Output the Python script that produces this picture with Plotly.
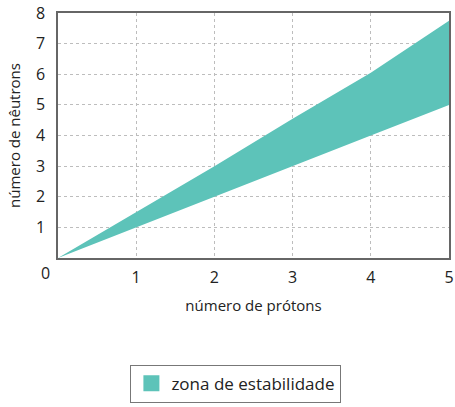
import plotly.graph_objects as go

protons = [0, 1, 2, 3, 4, 5]
neutrons_upper = [0, 1.5, 3.0, 4.55, 6.05, 7.75]
neutrons_lower = [0, 1.0, 2.0, 3.0, 4.0, 5.0]
x_ticks = [1, 2, 3, 4, 5]
y_ticks = [1, 2, 3, 4, 5, 6, 7, 8]
series_name = "zona de estabilidade"

teal = "#5DC3B9"
font = "'Open Sans', Lato, sans-serif"

fig = go.Figure()
fig.add_trace(go.Scatter(
    x=protons + protons[::-1],
    y=neutrons_upper + neutrons_lower[::-1],
    fill="toself", fillcolor=teal, mode="lines",
    line=dict(width=0, color=teal), name=series_name, showlegend=False,
    hoverinfo="skip",
))
fig.add_trace(go.Scatter(
    x=[None], y=[None], mode="markers", name=series_name,
    marker=dict(symbol="square", size=20, color=teal), showlegend=True,
))

fig.update_layout(
    width=455, height=407,
    margin=dict(l=58, r=6, t=13, b=148),
    paper_bgcolor="white", plot_bgcolor="white",
    font=dict(family=font, color="#222", size=16),
    showlegend=True,
    legend=dict(orientation="h", x=0.455, xanchor="center", y=-0.43, yanchor="top",
                bordercolor="#777", borderwidth=1, font=dict(size=17),
                itemwidth=30),
)
fig.update_xaxes(
    range=[0, 5], tickvals=x_ticks, ticks="", showline=True, linecolor="#666",
    linewidth=1.5, mirror=True, showgrid=True, gridcolor="#bdbdbd", griddash="3px,3px",
    gridwidth=1, zeroline=False, tickfont=dict(size=16), ticklabelstandoff=4,
    ticklabeloverflow="allow", automargin=False,
    title=dict(text="número de prótons", font=dict(size=15), standoff=14),
)
fig.update_yaxes(
    range=[0, 8], tickvals=y_ticks, ticks="", showline=True, linecolor="#666",
    linewidth=1.5, mirror=True, showgrid=True, gridcolor="#bdbdbd", griddash="3px,3px",
    gridwidth=1, zeroline=False, tickfont=dict(size=16), ticklabelstandoff=8,
    ticklabeloverflow="allow", automargin=False,
    title=dict(text="número de nêutrons", font=dict(size=15), standoff=12),
)
fig.add_annotation(text="0", xref="paper", yref="paper", x=0, y=0,
                   xanchor="right", yanchor="top", xshift=-6, yshift=-2,
                   showarrow=False, font=dict(size=16))
fig.write_html("out.html", config={"displayModeBar": False},
               post_script="document.body.style.margin='0';")
